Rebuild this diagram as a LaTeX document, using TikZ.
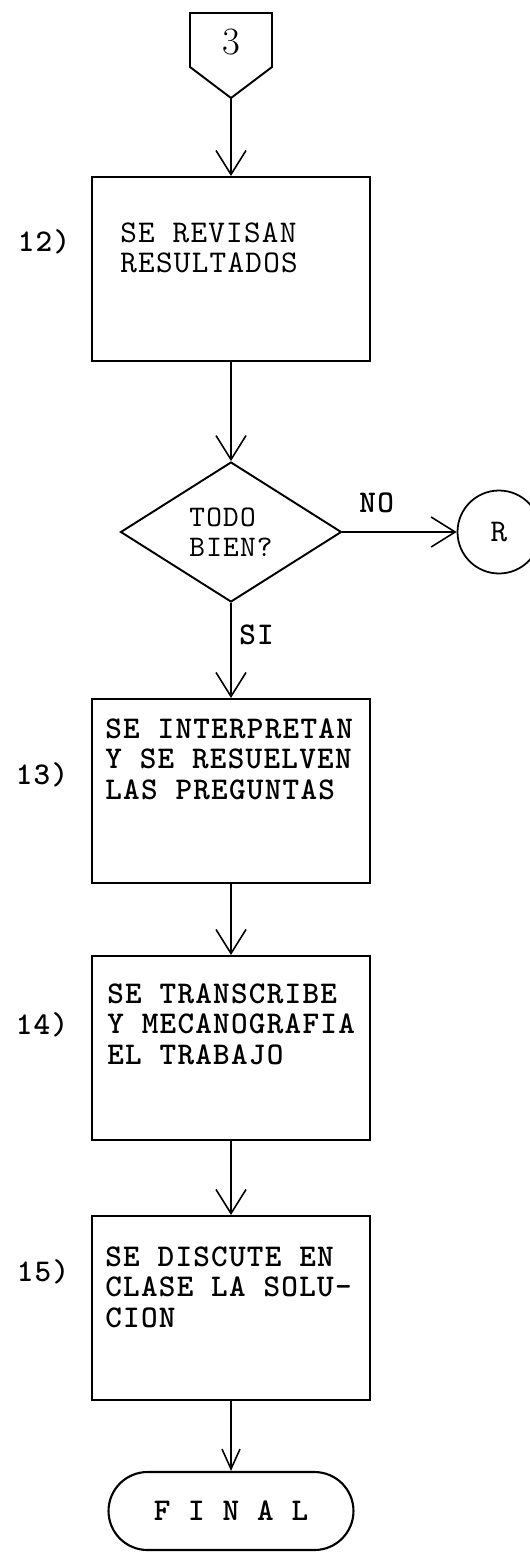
\documentclass[tikz,border=0pt]{standalone}
\usepackage{fontspec}
\newfontfamily\typewriter{lmmono10-regular}[Extension=.otf,BoldFont=lmmonolt10-bold,LetterSpace=4]
\usetikzlibrary{arrows.meta,positioning,shapes.geometric,calc}
\tikzset{
  flow/.style={-{Straight Barb[length=4.8mm,width=6mm]},line width=0.9pt},
  shortflow/.style={-{Straight Barb[length=4mm,width=3.6mm]},line width=0.9pt},
  stepbox/.style={draw,line width=1.2pt,minimum width=5.56cm,minimum height=3.68cm,inner sep=0pt},
  boxtext/.style={anchor=north west,align=left,inner sep=0pt,
        font=\fontsize{18}{17.6}\selectfont\typewriter\bfseries},
  steplabel/.style={font=\fontsize{18}{18}\selectfont\typewriter\bfseries,inner sep=0pt},
  decision/.style={diamond,draw,line width=1.1pt,aspect=1.58,minimum width=4.42cm,
        minimum height=2.8cm,inner sep=0pt,align=left,
        font=\fontsize{17}{17}\selectfont\typewriter},
  connector/.style={circle,draw,line width=1pt,minimum size=1.66cm,inner sep=0pt,
        font=\fontsize{18}{18}\selectfont\typewriter},
  terminal/.style={draw,line width=1.2pt,rounded corners=0.78cm,minimum width=4.9cm,
        minimum height=1.56cm,font=\fontsize{18}{18}\selectfont\typewriter\bfseries}
}
\begin{document}
\begin{tikzpicture}[x=0.02cm,y=-0.02cm]
  \fill[white] (0,0) rectangle (530,1552);
  \useasboundingbox (0,0) rectangle (530,1552);
  % off-page connector
  \draw[line width=1.1pt] (190,13) -- (272,13) -- (272,67) -- (231,98) -- (190,67) -- cycle;
  \coordinate (p3) at (231,98);
  \node[font=\fontsize{22}{22}\selectfont] (n3) at (231,42) {3};
  % steps
  \node[stepbox] (b12) at (231,269) {};
  \node[boxtext,font=\fontsize{18}{17.5}\selectfont\typewriter\mdseries] (t12)
        at ($(b12.north west)+(29,46)$) {SE REVISAN\\RESULTADOS};
  \node[steplabel] (l12) at (44,242) {12)};
  \node[decision] (dec) at (231,532) {TODO\\BIEN?};
  \node[connector] (r) at (499,532) {R};
  \node[stepbox] (b13) at (231,791) {};
  \node[boxtext] (t13) at ($(b13.north west)+(14,20)$)
        {SE INTERPRETAN\\Y SE RESUELVEN\\LAS PREGUNTAS};
  \node[steplabel] (l13) at (42,775) {13)};
  \node[stepbox] (b14) at (231,1048) {};
  \node[boxtext] (t14) at ($(b14.north west)+(16,28)$)
        {SE TRANSCRIBE\\Y MECANOGRAFIA\\EL TRABAJO};
  \node[steplabel] (l14) at (42,1025) {14)};
  \node[stepbox] (b15) at (231,1308) {};
  \node[boxtext] (t15) at ($(b15.north west)+(14,31)$)
        {SE DISCUTE EN\\CLASE LA SOLU-\\CION};
  \node[steplabel] (l15) at (43,1272) {15)};
  \node[terminal] (fin) at (231,1511) {F I N A L};
  % arrows
  \draw[flow] (p3) -- (b12.north);
  \draw[flow] (b12.south) -- (dec.north);
  \draw[flow] (dec.east) -- (r.west)
        node[pos=0.3,above=0.25cm,font=\fontsize{18}{18}\selectfont\typewriter\bfseries] (no) {NO};
  \draw[flow] (dec.south) -- (b13.north)
        node[pos=0.34,right=1pt,font=\fontsize{18}{18}\selectfont\typewriter\bfseries] (si) {SI};
  \draw[flow] (b13.south) -- (b14.north);
  \draw[flow] (b14.south) -- (b15.north);
  \draw[shortflow] (b15.south) -- (fin.north);
\end{tikzpicture}
\end{document}
